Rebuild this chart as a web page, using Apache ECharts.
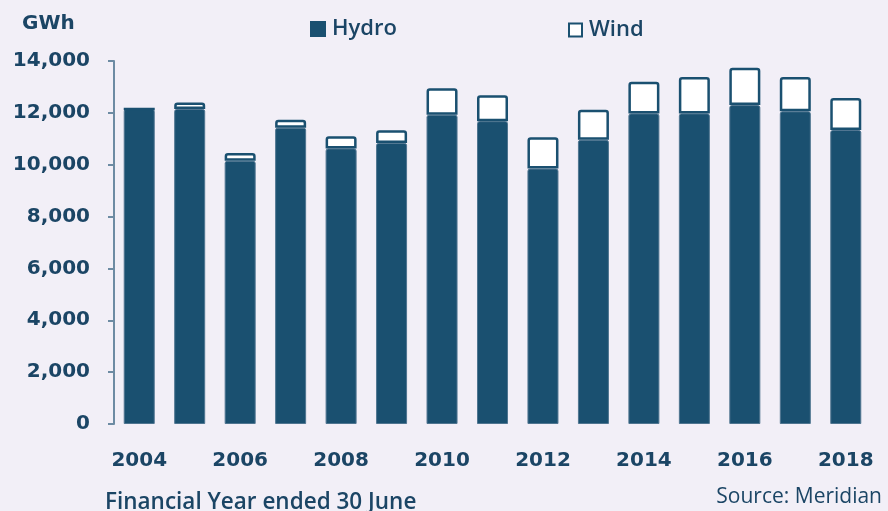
<!DOCTYPE html>
<html><head><meta charset="utf-8">
<script src="https://cdn.jsdelivr.net/npm/echarts@6/dist/echarts.min.js"></script>
<style>html,body{margin:0;padding:0;background:#f2eff7;}#c{width:888px;height:511px;}</style>
</head><body><div id="c"></div>
<script>
const years = ['2004','2005','2006','2007','2008','2009','2010','2011','2012','2013','2014','2015','2016','2017','2018'];
const hydro = [12150,12150,10150,11430,10630,10840,11930,11680,9850,10960,11980,11980,12300,12060,11340];
const wind  = [0,250,300,300,470,490,1020,1000,1210,1160,1220,1400,1440,1320,1230];
const yTicks = [0,2000,4000,6000,8000,10000,12000,14000];

const dark = '#1a5070';
const txt = '#1b4565';
const font = '"Open Sans", sans-serif';
const wide = '"DejaVu Sans", sans-serif';
const chart = echarts.init(document.getElementById('c'), null, {renderer:'canvas'});
chart.setOption({
  backgroundColor: '#f2eff7',
  animation: false,
  grid: {left: 114, right: 17, top: 61, bottom: 87, containLabel: false},
  legend: [
    {data: [{name:'Hydro', icon:'rect', itemStyle:{color:dark, borderWidth:0}}], left: 305, top: 13, itemWidth: 16, itemHeight: 16, itemGap: 6,
     textStyle:{color:txt, fontFamily:font, fontSize:22, fontWeight:600, padding:[3,0,0,1]}},
    {data: [{name:'Wind', icon:'rect', itemStyle:{color:'#ffffff', borderColor:dark, borderWidth:2}}], left: 563, top: 14, itemWidth: 13, itemHeight: 13,
     textStyle:{color:txt, fontFamily:font, fontSize:22, fontWeight:600, padding:[3,0,0,2]}}
  ],
  title: [
    {text:'GWh', left: 17, top: 9, textStyle:{color:txt, fontFamily:wide, fontSize:20, fontWeight:700}},
    {text:'Financial Year ended 30 June', left: 100, top: 486, textStyle:{color:txt, fontFamily:font, fontSize:22.5, fontWeight:600}},
    {text:'Source: Meridian', right: 1, top: 482, textStyle:{color:txt, fontFamily:font, fontSize:21, fontWeight:400}}
  ],
  xAxis: {
    type:'category', data: years,
    axisLine:{show:false}, axisTick:{show:false},
    axisLabel:{interval:1, margin:27, color:txt, fontFamily:wide, fontSize:20, fontWeight:700}
  },
  yAxis: {
    type:'value', min: yTicks[0], max: yTicks[yTicks.length-1], interval: 2000,
    axisLine:{show:true, lineStyle:{color:'#6d8ba3', width:2}},
    axisTick:{show:true, length:6, lineStyle:{color:'#6d8ba3', width:2}},
    splitLine:{show:false},
    axisLabel:{margin:24, color:txt, fontFamily:wide, fontSize:20, fontWeight:700, padding:[6,0,0,0],
      formatter: v => v.toLocaleString('en-US')}
  },
  series: [
    {name:'Hydro', type:'bar', stack:'a', data: hydro, barWidth: 31,
     itemStyle:{color:dark, borderColor:'#4f7590', borderWidth:1, borderRadius:[2,2,0,0]}},
    {name:'Wind', type:'bar', stack:'a', data: wind, barWidth: 31,
     itemStyle:{color:'#ffffff', borderColor:dark, borderWidth:2.5, borderRadius:[2,2,0,0]}}
  ]
});
</script></body></html>
